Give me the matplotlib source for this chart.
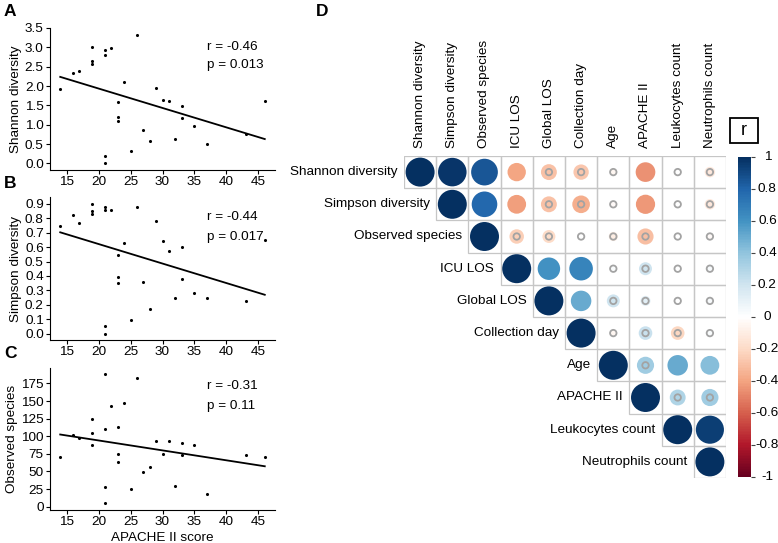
import numpy as np
import matplotlib
matplotlib.use("Agg")
import matplotlib.pyplot as plt
from matplotlib.colors import LinearSegmentedColormap, Normalize
from matplotlib.cm import ScalarMappable
from matplotlib.patches import Circle, Rectangle
from matplotlib.transforms import blended_transform_factory

plt.rcParams['font.family'] = ['Liberation Sans', 'DejaVu Sans']

# --- scatter data (APACHE II score vs diversity) ---
apache = [14, 16, 17, 19, 19, 19, 21, 21, 22, 21, 21, 23, 23, 23, 24, 25, 26,
          27, 28, 29, 30, 31, 32, 33, 33, 35, 37, 43, 46]
shannon = [1.92, 2.33, 2.40, 3.02, 2.65, 2.58, 2.92, 2.80, 2.99, 0.19, 0.00,
           1.58, 1.21, 1.09, 2.10, 0.31, 3.33, 0.86, 0.57, 1.95, 1.64, 1.61,
           0.62, 1.48, 1.18, 0.97, 0.50, 0.77, 1.62]
simpson = [0.75, 0.82, 0.77, 0.90, 0.85, 0.83, 0.88, 0.86, 0.86, 0.053, 0.0,
           0.545, 0.39, 0.35, 0.63, 0.095, 0.88, 0.36, 0.167, 0.78, 0.64, 0.573,
           0.246, 0.60, 0.38, 0.283, 0.25, 0.225, 0.65]
observed = [70, 102, 98, 125, 104, 87, 188, 110, 143, 28, 5, 113, 75, 63, 147,
            25, 183, 49, 56, 94, 75, 93, 29, 90, 74, 88, 18, 74, 71]
stats_text = ["r = -0.46\np = 0.013", "r = -0.44\np = 0.017", "r = -0.31\np = 0.11"]

# --- correlation matrix (upper triangle rows, starting at diagonal) ---
var_names = ["Shannon diversity", "Simpson diversity", "Observed species", "ICU LOS",
             "Global LOS", "Collection day", "Age", "APACHE II", "Leukocytes count",
             "Neutrophils count"]
corr_rows = [
    [1, 0.97, 0.85, -0.40, -0.30, -0.28, -0.05, -0.46, 0.00, -0.13],
    [1, 0.78, -0.42, -0.30, -0.37, -0.03, -0.44, 0.00, -0.13],
    [1, -0.25, -0.20, 0.00, -0.10, -0.31, 0.00, -0.03],
    [1, 0.60, 0.66, 0.02, 0.20, 0.00, 0.03],
    [1, 0.50, 0.20, 0.12, 0.00, 0.03],
    [1, -0.05, 0.22, -0.22, 0.02],
    [1, 0.35, 0.50, 0.42],
    [1, 0.30, 0.35],
    [1, 0.94],
    [1],
]
insig_rows = [
    [0, 0, 0, 0, 1, 1, 1, 0, 1, 1],
    [0, 0, 0, 1, 1, 1, 0, 1, 1],
    [0, 1, 1, 1, 1, 1, 1, 1],
    [0, 0, 0, 1, 1, 1, 1],
    [0, 0, 1, 1, 1, 1],
    [0, 1, 1, 1, 1],
    [0, 1, 0, 0],
    [0, 1, 1],
    [0, 0],
    [0],
]
cbar_ticks = [1, 0.8, 0.6, 0.4, 0.2, 0, -0.2, -0.4, -0.6, -0.8, -1]
rdbu = ["#67001F", "#B2182B", "#D6604D", "#F4A582", "#FDDBC7", "#FFFFFF",
        "#D1E5F0", "#92C5DE", "#4393C3", "#2166AC", "#053061"]

W, H = 778, 543
fig = plt.figure(figsize=(W / 100, H / 100), dpi=100)


def px_axes(l, t, r, b):
    return fig.add_axes([l / W, 1 - b / H, (r - l) / W, (b - t) / H])


fs = 9.7
panels = [
    (shannon, "Shannon diversity", (28, 170), (-0.17, 3.5), np.arange(0, 3.6, 0.5), "{:.1f}", (3.02, 2.55)),
    (simpson, "Simpson diversity", (197.5, 340), (-0.045, 0.945), np.arange(0, 0.95, 0.1), "{:.1f}", (0.81, 0.67)),
    (observed, "Observed species", (368, 509.5), (-4, 197), np.arange(0, 176, 25), "{:.0f}", (171, 143)),
]
for k, (yv, ylab, (top, bot), ylim, yt, fmt, txty) in enumerate(panels):
    ax = px_axes(50, top, 275, bot)
    x = np.array(apache, float)
    y = np.array(yv, float)
    ax.scatter(x, y, s=5, color='black', linewidths=0, zorder=3)
    m, c = np.polyfit(x, y, 1)
    xx = np.array([x.min(), x.max()])
    ax.plot(xx, m * xx + c, color='black', lw=1.3)
    ax.set_xlim(12.4, 47.6)
    ax.set_ylim(*ylim)
    ax.set_xticks([15, 20, 25, 30, 35, 40, 45])
    ax.set_yticks(yt)
    ax.set_yticklabels([fmt.format(v) for v in yt])
    ax.spines['top'].set_visible(False)
    ax.spines['right'].set_visible(False)
    for s in ('left', 'bottom'):
        ax.spines[s].set_linewidth(0.8)
    ax.tick_params(labelsize=fs, length=3, width=0.8, pad=1.5, colors='black')
    ax.set_ylabel(ylab, fontsize=fs, labelpad=2)
    r_line, p_line = stats_text[k].split("\n")
    ax.text(37, txty[0], r_line, fontsize=fs, ha='left', va='center')
    ax.text(37, txty[1], p_line, fontsize=fs, ha='left', va='center')
    if k == 2:
        ax.set_xlabel("APACHE II score", fontsize=fs, labelpad=3)

for lab, (lx, ly) in zip("ABCD", [(4, 12), (4, 183), (4, 354), (316, 12)]):
    fig.text(lx / W, 1 - ly / H, lab, fontsize=12.5, fontweight='bold', va='center', ha='left')

# --- correlation plot ---
cmap = LinearSegmentedColormap.from_list("corr_rdbu", rdbu, N=200)
norm = Normalize(-1, 1)
n = len(var_names)
axd = px_axes(404, 156, 726, 478)
axd.set_xlim(0, n)
axd.set_ylim(n, 0)
axd.axis('off')
for i in range(n):
    for jj, (rv, ins) in enumerate(zip(corr_rows[i], insig_rows[i])):
        j = i + jj
        axd.add_patch(Rectangle((j, i), 1, 1, fill=False, ec='#c6c6c6', lw=0.9, zorder=1))
        rad = 0.45 * np.sqrt(abs(rv))
        if rad > 0:
            axd.add_patch(Circle((j + 0.5, i + 0.5), rad, fc=cmap(norm(rv)), ec='none', zorder=2))
        if ins:
            axd.add_patch(Circle((j + 0.5, i + 0.5), 0.1, fill=False, ec='#a3a3a3', lw=1.3, zorder=3))
    axd.text(i - 0.2, i + 0.5, var_names[i], ha='right', va='center', fontsize=fs, clip_on=False)
    axd.text(i + 0.5, -0.25, var_names[i], ha='center', va='bottom', rotation=90, fontsize=fs, clip_on=False)

cax = px_axes(737.5, 157, 750.5, 477)
cb = fig.colorbar(ScalarMappable(norm=norm, cmap=cmap), cax=cax)
cb.outline.set_visible(False)
cb.set_ticks(cbar_ticks)
cax.tick_params(length=3, width=0.8, color='#444444', labelright=False)
tr = blended_transform_factory(cax.transAxes, cax.transData)
for t in cbar_ticks:
    cax.text(2.3, t, "{:g}".format(t), transform=tr, ha='center', va='center', fontsize=fs, clip_on=False)

fig.add_artist(Rectangle((730 / W, 1 - 143.5 / H), 28 / W, 25.5 / H, transform=fig.transFigure,
                         fill=False, ec='black', lw=1.3))
fig.text(744 / W, 1 - 131 / H, "r", fontsize=13, ha='center', va='center')

fig.savefig("out.png", dpi=100)
